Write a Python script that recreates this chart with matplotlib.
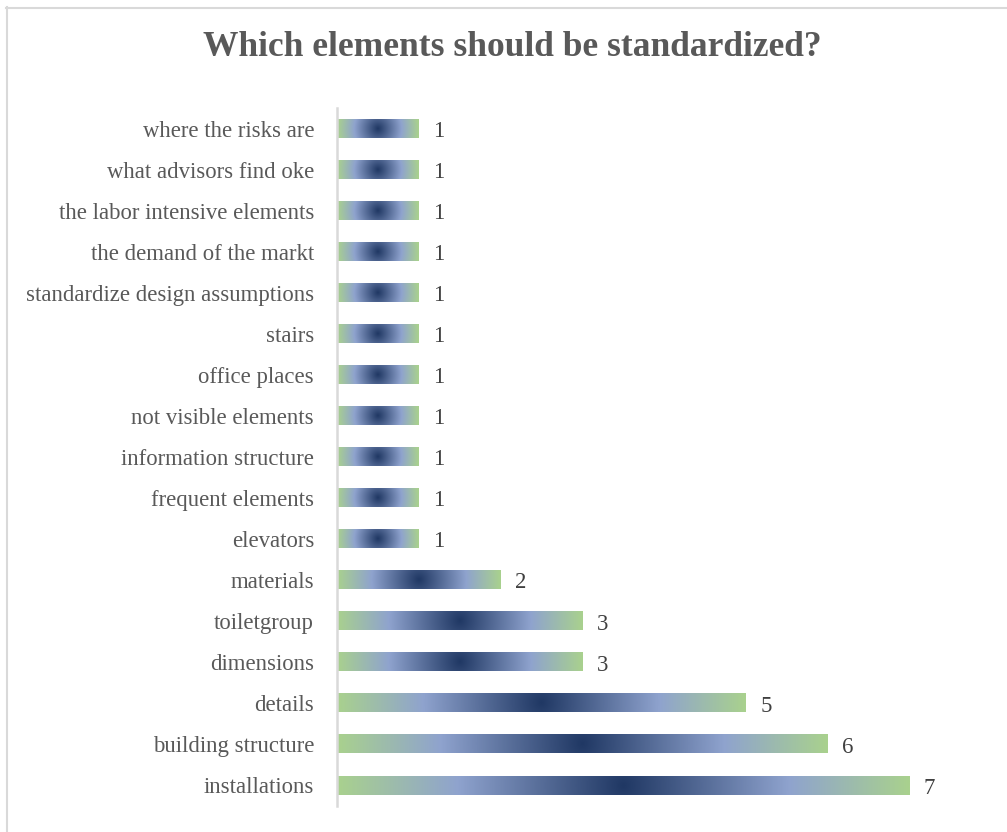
import numpy as np
import matplotlib.pyplot as plt
from matplotlib.colors import LinearSegmentedColormap
from matplotlib.lines import Line2D

categories = [
    "installations", "building structure", "details", "dimensions",
    "toiletgroup", "materials", "elevators", "frequent elements",
    "information structure", "not visible elements", "office places",
    "stairs", "standardize design assumptions", "the demand of the markt",
    "the labor intensive elements", "what advisors find oke",
    "where the risks are",
]
counts = [7, 6, 5, 3, 3, 2, 1, 1, 1, 1, 1, 1, 1, 1, 1, 1, 1]
title = "Which elements should be standardized?"

W, H = 1007, 832
fig = plt.figure(figsize=(W / 100, H / 100), dpi=100)
ax = fig.add_axes([337 / W, 1 - 806 / H, (991 - 337) / W, (806 - 108) / H])

# gradient: dark navy at the bar centre, periwinkle, green at the ends
cmap = LinearSegmentedColormap.from_list(
    "bargrad", [(0.0, "#203864"), (0.58, "#8FA3CE"), (1.0, "#A9D18E")])

bar_h = 0.44
nx, ny = 400, 40
for i, v in enumerate(counts):
    xs = np.linspace(-1, 1, nx)
    ys = np.linspace(-1, 1, ny)
    X, Y = np.meshgrid(xs, ys)
    half_px = v * 81.7 / 2
    k = 9.0 / half_px  # slight vertical falloff, in pixel terms
    t = np.clip(np.sqrt(X ** 2 + (k * Y) ** 2), 0, 1)
    ax.imshow(t, cmap=cmap, vmin=0, vmax=1, aspect="auto",
              extent=(0, v, i - bar_h / 2, i + bar_h / 2),
              interpolation="bilinear", zorder=2)
    ax.annotate(str(v), xy=(v, i), xytext=(10.5, -2), textcoords="offset points",
                va="center", ha="left", fontsize=16.5, color="#404040",
                family="Liberation Serif")

ax.set_xlim(0, 8)
ax.set_ylim(-0.5, len(categories) - 0.5)
ax.set_yticks(range(len(categories)))
ax.set_yticklabels(categories, fontsize=16.4, color="#595959",
                   family="Liberation Serif")
ax.set_xticks([])
ax.tick_params(axis="y", length=0, pad=16.5)
for s in ["top", "right", "bottom"]:
    ax.spines[s].set_visible(False)
ax.spines["left"].set_color("#D9D9D9")
ax.spines["left"].set_linewidth(1.8)

fig.text(512 / W, 1 - 48 / H, title, ha="center", va="center",
         fontsize=25.5, fontweight="bold", color="#595959",
         family="Liberation Serif")

# chart frame
fig.add_artist(Line2D([6 / W, 1], [1 - 7.5 / H, 1 - 7.5 / H],
                      transform=fig.transFigure, color="#D9D9D9", lw=1.5))
fig.add_artist(Line2D([6.5 / W, 6.5 / W], [0, 1 - 7 / H],
                      transform=fig.transFigure, color="#D9D9D9", lw=1.5))

fig.savefig("out.png", dpi=100)
